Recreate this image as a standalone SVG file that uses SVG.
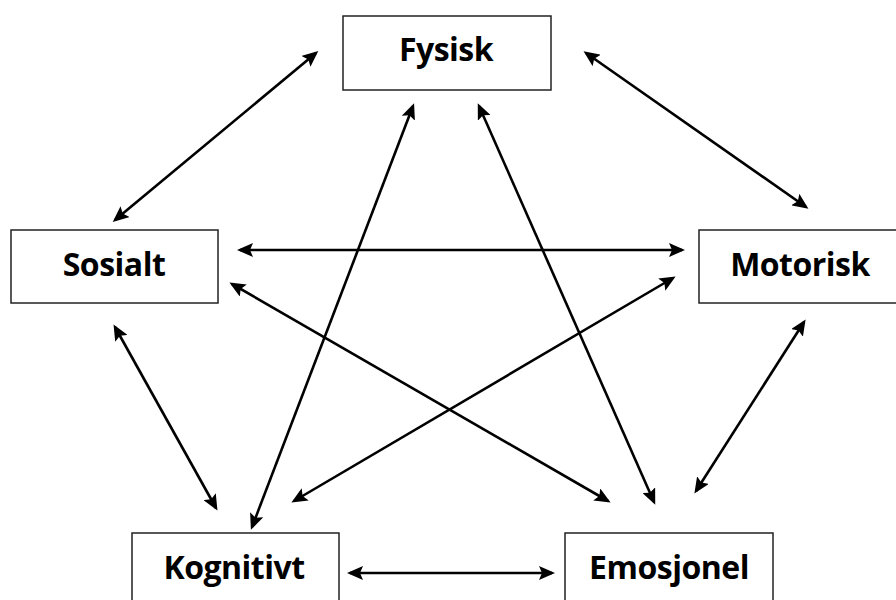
<svg xmlns="http://www.w3.org/2000/svg" width="896" height="600" viewBox="0 0 896 600">
<style>
.box{fill:#fff;stroke:#222;stroke-width:1.5}
.lbl{font-family:"Open Sans","Liberation Sans",sans-serif;font-weight:bold;font-size:32px;letter-spacing:-0.5px;fill:#000;text-anchor:middle}
.c line{stroke:#000;stroke-width:2.6;marker-start:url(#ah);marker-end:url(#ah)}
</style>
<defs>
<marker id="ah" markerUnits="userSpaceOnUse" markerWidth="16" markerHeight="14" viewBox="0 0 16 14" refX="13" refY="7" orient="auto-start-reverse">
<path d="M0,0 L16,7 L0,14 L3,7 Z" fill="#000"/>
</marker>
</defs>
<rect width="896" height="600" fill="#fff"/>
<g class="c" id="connectors">
<line x1="316" y1="53" x2="115" y2="220"/>
<line x1="586" y1="53" x2="806" y2="207"/>
<line x1="240" y1="250" x2="682" y2="250"/>
<line x1="115" y1="327" x2="216" y2="508"/>
<line x1="804" y1="322" x2="696" y2="491"/>
<line x1="350" y1="573" x2="552" y2="573"/>
<line x1="413" y1="106" x2="252" y2="527"/>
<line x1="479" y1="106" x2="654" y2="502"/>
<line x1="232" y1="284" x2="608" y2="501"/>
<line x1="673" y1="278" x2="294" y2="501"/>
</g>
<g id="fysisk"><rect class="box" x="343" y="16" width="208" height="74"/><text class="lbl" x="446" y="61">Fysisk</text></g>
<g id="sosialt"><rect class="box" x="11" y="230" width="207" height="73"/><text class="lbl" x="114" y="276">Sosialt</text></g>
<g id="motorisk"><rect class="box" x="699" y="230" width="207" height="73"/><text class="lbl" x="800" y="276">Motorisk</text></g>
<g id="kognitivt"><rect class="box" x="132" y="533" width="207" height="74"/><text class="lbl" x="234" y="579">Kognitivt</text></g>
<g id="emosjonel"><rect class="box" x="565" y="533" width="208" height="74"/><text class="lbl" x="669" y="579">Emosjonel</text></g>
</svg>
